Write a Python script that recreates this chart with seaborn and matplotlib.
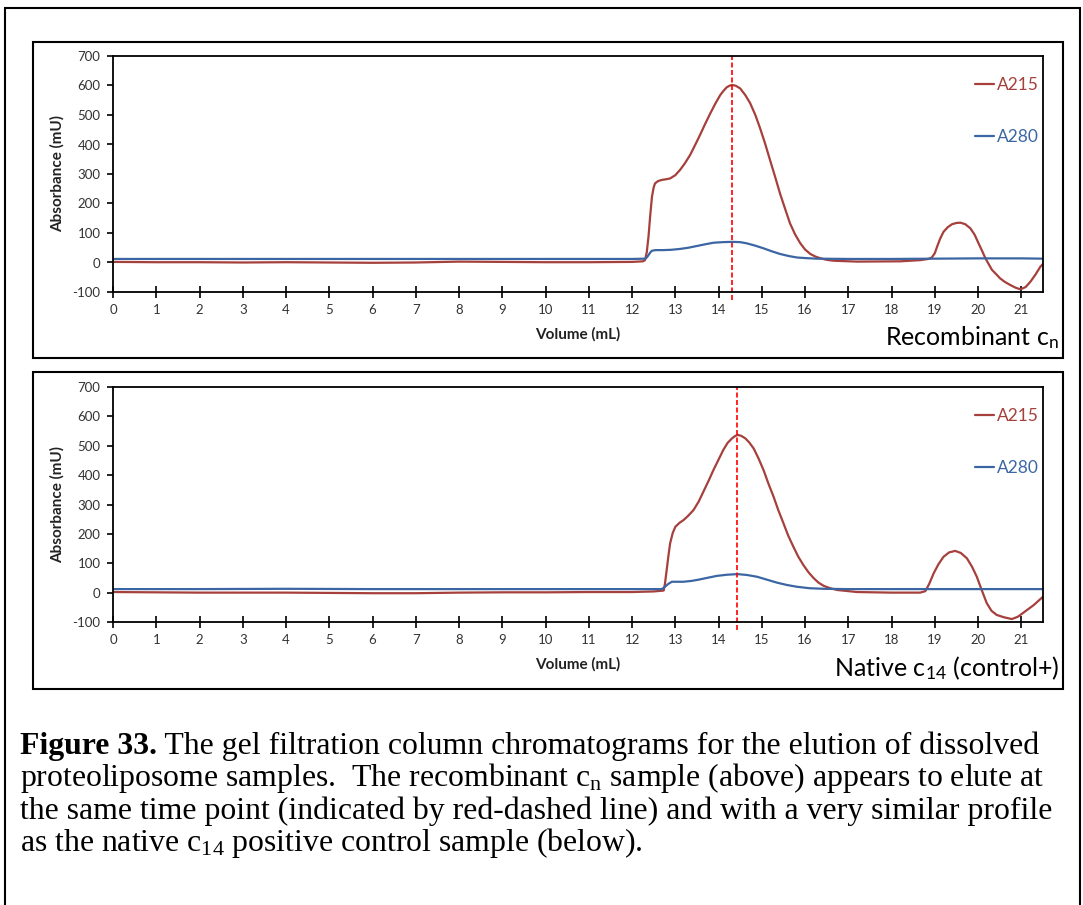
import matplotlib
matplotlib.use("Agg")
import matplotlib.pyplot as plt
import seaborn as sns
from matplotlib.patches import Rectangle

# --- data (volume in mL, absorbance in mU) ---
vol_215_rec = [0, 1, 2, 3, 4, 5, 6, 7, 8, 9, 10, 11, 12.0, 12.25, 12.30, 12.34, 12.38, 12.42,
               12.46, 12.50, 12.53, 12.60, 12.69, 12.78, 12.88, 13.0, 13.11, 13.22, 13.34,
               13.45, 13.57, 13.69, 13.81, 13.93, 14.04, 14.12, 14.19, 14.25, 14.31, 14.40,
               14.50, 14.62, 14.73, 14.85, 14.96, 15.08, 15.19, 15.31, 15.42, 15.54, 15.65,
               15.77, 15.89, 16.0, 16.12, 16.24, 16.36, 16.5, 16.66, 17.2, 18.2, 18.66, 18.85,
               18.93, 19.0, 19.05, 19.12, 19.2, 19.3, 19.4, 19.5, 19.59, 19.7, 19.82, 19.92,
               20.01, 20.09, 20.17, 20.25, 20.32, 20.42, 20.51, 20.62, 20.74, 20.86, 20.98,
               21.1, 21.21, 21.33, 21.44, 21.5]
a215_rec = [2, 1, 1, 0, 1, 0, -1, 0, 3, 2, 1, 1, 2, 4, 8, 35, 88, 160,
            223, 255, 268, 276, 280, 282, 285, 296, 314, 336, 364,
            396, 432, 470, 506, 540, 568, 583, 594, 599, 602, 599,
            590, 567, 540, 500, 455, 401, 347, 289, 234, 181, 133,
            95, 65, 44, 29, 20, 14, 9, 6, 3, 4, 8, 12,
            17, 32, 53, 80, 104, 120, 130, 134, 135, 130, 116, 94,
            65, 40, 14, -7, -25, -40, -54, -66, -76, -85, -91,
            -83, -65, -40, -14, -5]

vol_280_rec = [0, 2, 4, 6, 8, 10, 12.0, 12.30, 12.34, 12.38, 12.42, 12.46, 12.55, 12.72, 12.9,
               13.11, 13.30, 13.50, 13.70, 13.88, 14.1, 14.31, 14.50, 14.65, 14.85, 15.04,
               15.23, 15.42, 15.62, 15.81, 16.0, 16.27, 17, 18, 19, 20, 21, 21.5]
a280_rec = [12, 12, 12, 12, 12, 12, 12, 13, 17, 25, 34, 40, 42, 42, 43,
            46, 50, 56, 62, 67, 69, 70, 69, 65, 57, 48,
            38, 29, 22, 17, 15, 13, 12, 12, 13, 14, 14, 13]

vol_215_nat = [0, 1, 2, 3, 4, 5, 6, 7, 8, 9, 10, 11, 12.0, 12.5, 12.73, 12.76, 12.80, 12.84,
               12.88, 12.94, 13.0, 13.1, 13.19, 13.3, 13.42, 13.54, 13.65, 13.77, 13.88, 14.0,
               14.11, 14.21, 14.31, 14.38, 14.44, 14.52, 14.62, 14.71, 14.81, 14.92, 15.04,
               15.15, 15.27, 15.38, 15.50, 15.61, 15.73, 15.84, 15.96, 16.08, 16.2, 16.31,
               16.43, 16.58, 16.74, 17.2, 18.0, 18.66, 18.78, 18.87, 18.97, 19.08, 19.2,
               19.33, 19.47, 19.6, 19.74, 19.86, 19.97, 20.08, 20.2, 20.31, 20.43, 20.6,
               20.78, 20.92, 21.05, 21.28, 21.5]
a215_nat = [2, 1, 0, 0, 0, -1, -2, -2, 0, 1, 1, 2, 2, 4, 7, 30, 77, 125,
            168, 203, 224, 238, 247, 262, 281, 310, 344, 381, 417, 453,
            486, 510, 525, 533, 537, 534, 525, 511, 491, 458, 417,
            372, 327, 281, 236, 194, 156, 123, 94, 69, 49, 34,
            23, 15, 9, 2, 0, 0, 5, 30, 65, 96, 122,
            137, 142, 135, 117, 88, 54, 10, -36, -62, -76, -84,
            -90, -82, -68, -43, -14]

vol_280_nat = [0, 2, 4, 6, 8, 10, 12.0, 12.69, 12.76, 12.84, 12.92, 13.19, 13.38, 13.57, 13.76,
               13.96, 14.2, 14.44, 14.66, 14.89, 15.12, 15.35, 15.58, 15.81, 16.1, 16.43, 17,
               19, 21.5]
a280_nat = [12, 12, 13, 12, 12, 12, 12, 12, 20, 30, 37, 37, 40, 45, 51,
            57, 61, 63, 60, 54, 44, 34, 26, 20, 15, 13, 12,
            12, 12]

peak_rec = 14.32
peak_nat = 14.43

x_ticks = list(range(0, 22))
y_ticks = list(range(-100, 701, 100))

RED = '#A5403C'
BLUE = '#3C66A3'

sns.set_style("ticks")
plt.rcParams['font.family'] = ['Lato', 'DejaVu Sans']
plt.rcParams['mathtext.default'] = 'regular'
plt.rcParams['axes.unicode_minus'] = False

W, H = 1083, 905
fig = plt.figure(figsize=(W / 100, H / 100), dpi=100)


def fig_rect(x0, y0, x1, y1):
    # pixel box (top-left origin) -> figure fraction [left, bottom, width, height]
    return [x0 / W, 1 - y1 / H, (x1 - x0) / W, (y1 - y0) / H]


def box(x0, y0, x1, y1, lw=1.5):
    r = fig_rect(x0, y0, x1, y1)
    fig.add_artist(Rectangle((r[0], r[1]), r[2], r[3], transform=fig.transFigure,
                             fill=False, edgecolor='black', linewidth=lw))


def draw_panel(ax, v215, a215, v280, a280, peak, label, label_y):
    sns.lineplot(x=v215, y=a215, ax=ax, color=RED, linewidth=1.6, label='A215')
    sns.lineplot(x=v280, y=a280, ax=ax, color=BLUE, linewidth=1.6, label='A280')
    ax.axvline(peak, ymin=-0.035, ymax=1, color='red', linestyle=(0, (3, 1.5)),
               linewidth=1.2, clip_on=False)

    ax.set_xlim(0, 21.5)
    ax.set_ylim(-100, 700)
    ax.set_xticks(x_ticks)
    ax.set_yticks(y_ticks)
    for s in ax.spines.values():
        s.set_color('black')
        s.set_linewidth(1.3)
    ax.tick_params(axis='x', direction='inout', length=8, width=1.2, color='black',
                   labelsize=9.5, labelcolor='#333333', pad=5)
    ax.tick_params(axis='y', direction='out', length=4, width=1.2, color='black',
                   labelsize=9.5, labelcolor='#333333', pad=5)

    ax.set_xlabel('Volume (mL)', fontsize=11, fontweight='bold', color='#222222')
    ax.set_ylabel('Absorbance (mU)', fontsize=11, fontweight='bold', color='#222222')
    ax.xaxis.set_label_coords(0.5, -0.18)
    ax.xaxis.label.set_verticalalignment('center')
    ax.yaxis.set_label_coords(-0.06, 0.5)
    ax.yaxis.label.set_verticalalignment('center')

    ax.legend(loc='upper right', bbox_to_anchor=(1.003, 0.941), frameon=False,
              handlelength=1.1, handletextpad=0.15, labelspacing=2.1, fontsize=12.5,
              labelcolor='linecolor', borderaxespad=0.0)

    fig.text(1059 / W, 1 - label_y / H, label, ha='right', va='center', fontsize=18,
             color='black')


# outer frame and panel frames
box(5, 8, 1080, 915, lw=1.5)
box(33, 42, 1063, 358)
box(33, 372, 1063, 689)

ax1 = fig.add_axes(fig_rect(113, 56, 1043, 292))
ax2 = fig.add_axes(fig_rect(113, 387, 1043, 622))

draw_panel(ax1, vol_215_rec, a215_rec, vol_280_rec, a280_rec, peak_rec,
           'Recombinant $c_{n}$', 338)
draw_panel(ax2, vol_215_nat, a215_nat, vol_280_nat, a280_nat, peak_nat,
           'Native $c_{14}$ (control+)', 668)

# caption
cap_font = ['Liberation Serif', 'DejaVu Serif']
cap_size = 22.9
cap_x = 20
renderer = fig.canvas.get_renderer()
t = fig.text(cap_x / W, 1 - 754 / H, 'Figure 33.', family=cap_font, fontsize=cap_size,
             fontweight='bold', va='baseline', color='black')
bb = t.get_window_extent(renderer=renderer)
fig.text(bb.x1 / W, 1 - 754 / H, ' The gel filtration column chromatograms for the elution of dissolved',
         family=cap_font, fontsize=cap_size, va='baseline', color='black')
caption_rest = [
    'proteoliposome samples.  The recombinant $c_{n}$ sample (above) appears to elute at',
    'the same time point (indicated by red-dashed line) and with a very similar profile',
    'as the native $c_{14}$ positive control sample (below).',
]
for i, line in enumerate(caption_rest):
    fig.text(cap_x / W, 1 - (786 + 32.5 * i) / H, line, family=cap_font, fontsize=cap_size,
             va='baseline', color='black')

fig.savefig('out.png', dpi=100)
